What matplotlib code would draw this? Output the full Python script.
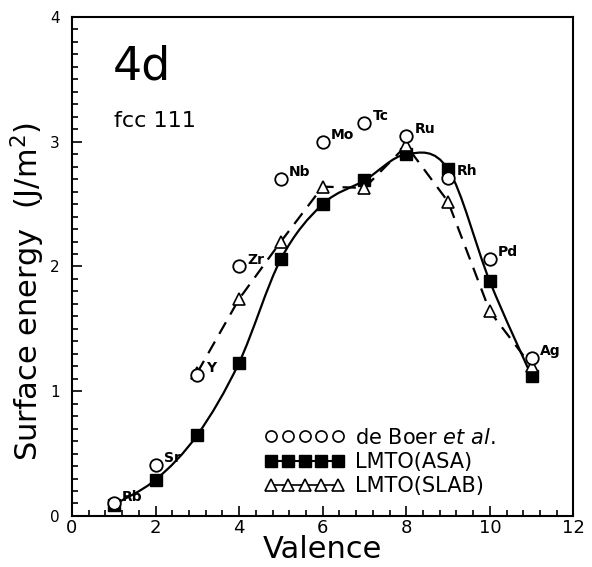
import numpy as np
import matplotlib
matplotlib.use('Agg')
import matplotlib.pyplot as plt
from matplotlib.path import Path
from matplotlib.patches import PathPatch
from matplotlib.lines import Line2D
from matplotlib.ticker import MultipleLocator

# surface energies of 4d metals, fcc(111)
elements = ['Rb', 'Sr', 'Y', 'Zr', 'Nb', 'Mo', 'Tc', 'Ru', 'Rh', 'Pd', 'Ag']
valence = [1, 2, 3, 4, 5, 6, 7, 8, 9, 10, 11]
de_boer = [0.10, 0.41, 1.13, 2.00, 2.70, 3.00, 3.15, 3.05, 2.71, 2.06, 1.27]
lmto_asa = [0.09, 0.29, 0.65, 1.23, 2.06, 2.50, 2.69, 2.90, 2.78, 1.88, 1.12]
slab_valence = [3, 4, 5, 6, 7, 8, 9, 10, 11]
lmto_slab = [1.15, 1.74, 2.20, 2.64, 2.63, 2.97, 2.52, 1.64, 1.20]


def smooth_path(x, y):
    # Catmull-Rom through the points, as cubic bezier segments
    p = np.column_stack([x, y]).astype(float)
    ext = np.vstack([p[0], p, p[-1]])
    verts = [p[0]]
    codes = [Path.MOVETO]
    for i in range(1, len(ext) - 2):
        p0, p1, p2, p3 = ext[i - 1], ext[i], ext[i + 1], ext[i + 2]
        verts += [p1 + (p2 - p0) / 6, p2 - (p3 - p1) / 6, p2]
        codes += [Path.CURVE4] * 3
    return Path(verts, codes)


plt.rcParams['font.family'] = 'DejaVu Sans'
fig = plt.figure(figsize=(5.92, 5.67), dpi=100)
ax = fig.add_axes([0.1216, 0.09, 0.847, 0.88])

ax.add_patch(PathPatch(smooth_path(valence, lmto_asa), fill=False,
                       lw=1.6, color='black', zorder=2))
ax.plot(slab_valence, lmto_slab, color='black', lw=1.6, dashes=(6, 4), zorder=2)

ax.plot(valence, de_boer, 'o', ms=9, mfc='white', mec='black', mew=1.3, zorder=4)
ax.plot(valence, lmto_asa, 's', ms=8, color='black', zorder=3)
ax.plot(slab_valence, lmto_slab, '^', ms=8, mfc='white', mec='black', mew=1.2, zorder=3)

for name, xv, yv in zip(elements, valence, de_boer):
    ax.annotate(name, (xv, yv), xytext=(6, 5), textcoords='offset points',
                ha='left', va='center', fontsize=10, fontweight='bold')

ax.text(0.98, 3.5, '4d', fontsize=33)
ax.text(1.0, 3.12, 'fcc 111', fontsize=16)

ax.set_xlim(0, 12)
ax.set_ylim(0, 4)
ax.xaxis.set_major_locator(MultipleLocator(2))
ax.xaxis.set_minor_locator(MultipleLocator(0.4))
ax.yaxis.set_major_locator(MultipleLocator(1))
ax.yaxis.set_minor_locator(MultipleLocator(0.1))
ax.tick_params(which='both', direction='in', top=False, right=False, width=1.2)
ax.tick_params(which='major', length=7)
ax.tick_params(which='minor', length=4)
ax.tick_params(axis='x', labelsize=13, pad=2)
ax.tick_params(axis='y', labelsize=11, pad=9)
for s in ax.spines.values():
    s.set_linewidth(1.5)

ax.set_xlabel('Valence', fontsize=22, labelpad=-1)
ax.set_ylabel('Surface energy  (J/m$^2$)', fontsize=22)
ax.yaxis.set_label_coords(-0.05, 0.45)

handles = [
    Line2D([], [], ls='none', marker='o', ms=8, mfc='white', mec='black', mew=1.2),
    Line2D([], [], ls='-', lw=1.5, color='black', marker='s', ms=8),
    Line2D([], [], ls='-', lw=1.2, color='black', marker='^', ms=8, mfc='white', mew=1.2),
]
labels = ['de Boer $\\it{et\\ al.}$', 'LMTO(ASA)', 'LMTO(SLAB)']
ax.legend(handles, labels, loc='lower left', bbox_to_anchor=(0.385, 0.04),
          frameon=False, numpoints=5, handlelength=3.8, handletextpad=0.5,
          labelspacing=0.2, borderpad=0, borderaxespad=0, fontsize=15)

fig.savefig('out.png', dpi=100)
